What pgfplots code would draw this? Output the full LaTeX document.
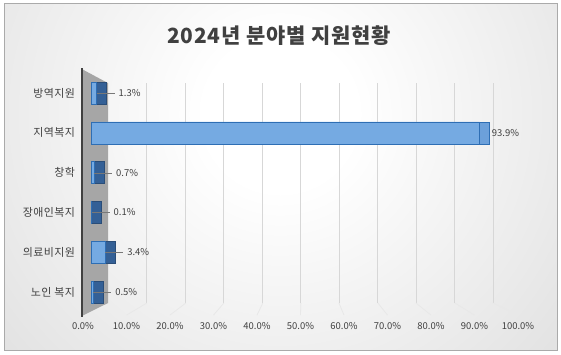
\documentclass[border=0pt]{standalone}
\usepackage{fontspec}
\setmainfont{Noto Sans CJK KR}
\usepackage{pgfplots}
\pgfplotsset{compat=1.18}
\definecolor{bgout}{RGB}{202,202,202}
\definecolor{framec}{RGB}{170,170,170}
\definecolor{txt}{RGB}{64,64,64}
\definecolor{wallc}{RGB}{166,166,166}
\definecolor{barfront}{RGB}{117,170,226}
\definecolor{baredge}{RGB}{46,110,180}
\definecolor{bardark}{RGB}{52,96,150}
\definecolor{barcap}{RGB}{108,160,218}
\definecolor{gridc}{RGB}{215,215,215}
\definecolor{floorc}{RGB}{232,232,232}
\definecolor{ldrc}{RGB}{120,120,120}
\pgfdeclareradialshading{bgshade}{\pgfpoint{0bp}{0bp}}{color(0bp)=(white); color(5bp)=(white); color(40bp)=(bgout); color(50bp)=(bgout)}
\newcommand{\ldr}{\textcolor{ldrc}{\rule[0.3em]{18bp}{0.6pt}}\hspace{4bp}}
\begin{document}
\begin{tikzpicture}[x=1bp,y=1bp]
\useasboundingbox (0,0) rectangle (561,354);
\fill[white] (0,0) rectangle (561,354);
\begin{scope}
\clip (4,4) rectangle (557,350);
\fill[bgout] (4,4) rectangle (557,350);
\shade[shading=bgshade] (280,240) circle (380);
\end{scope}
\draw[framec, line width=1bp] (4,4) rectangle (557,350);
\node[font=\fontsize{21}{23}\selectfont\bfseries\addfontfeatures{LetterSpace=4}, text=txt] at (279,318) {2024년 분야별 지원현황};
\begin{axis}[
  at={(76.1bp,51bp)}, anchor=south west, scale only axis,
  width=453.7bp, height=219.9bp,
  xmin=-3.6, xmax=106, ymin=-0.276, ymax=5.25,
  clip=false,
  axis line style={draw=none},
  major tick length=0pt,
  /pgf/number format/assume math mode=true,
  xtick={-1.93,8.58,19.08,29.59,40.10,50.60,61.11,71.62,82.13,92.63,103.14},
  xticklabels={0.0\%,10.0\%,20.0\%,30.0\%,40.0\%,50.0\%,60.0\%,70.0\%,80.0\%,90.0\%,100.0\%},
  extra x ticks={13.5,22.9,32.1,41.5,50.7,59.9,69.3,78.5,87.9,97.1},
  extra x tick labels={},
  extra x tick style={grid=major},
  major grid style={gridc, line width=0.8bp},
  ytick={0,1,2,3,4,5},
  yticklabels={노인 복지,의료비지원,장애인복지,창학,지역복지,방역지원},
  xticklabel style={font=\fontsize{9.5}{10}\selectfont, text=txt, yshift=-16bp},
  yticklabel style={font=\fontsize{11}{12}\selectfont\addfontfeatures{LetterSpace=4}, text=txt, xshift=2.5bp},
  xbar, bar width=22bp, bar shift=0pt,
]
% floor lines
\draw[floorc, line width=0.8bp] (axis cs:13.5,-0.276) -- (axis cs:8.58,-0.58);
\draw[floorc, line width=0.8bp] (axis cs:22.9,-0.276) -- (axis cs:19.08,-0.58);
\draw[floorc, line width=0.8bp] (axis cs:32.1,-0.276) -- (axis cs:29.59,-0.58);
\draw[floorc, line width=0.8bp] (axis cs:41.5,-0.276) -- (axis cs:40.10,-0.58);
\draw[floorc, line width=0.8bp] (axis cs:50.7,-0.276) -- (axis cs:50.60,-0.58);
\draw[floorc, line width=0.8bp] (axis cs:59.9,-0.276) -- (axis cs:61.11,-0.58);
\draw[floorc, line width=0.8bp] (axis cs:69.3,-0.276) -- (axis cs:71.62,-0.58);
\draw[floorc, line width=0.8bp] (axis cs:78.5,-0.276) -- (axis cs:82.13,-0.58);
\draw[floorc, line width=0.8bp] (axis cs:87.9,-0.276) -- (axis cs:92.63,-0.58);
\draw[floorc, line width=0.8bp] (axis cs:97.1,-0.276) -- (axis cs:103.14,-0.58);
\fill[wallc] (axis cs:-2.17,5.60) -- (axis cs:4.11,5.25) -- (axis cs:4.11,-0.276) -- (axis cs:-2.17,-0.60) -- cycle;
\draw[txt, line width=1.8bp] (axis cs:-2.17,5.62) -- (axis cs:-2.17,-0.62);
% depth (end caps)
\addplot[fill=bardark, draw=bardark!80!black, line width=0.4bp] coordinates {(2.9,0) (5.8,1) (2.5,2) (3.1,3) (3.7,5)};
\addplot[fill=barcap, draw=baredge, line width=0.4bp] coordinates {(96.3,4)};
% values
\addplot[fill=barfront, draw=baredge, line width=0.5bp,
  point meta=explicit symbolic, nodes near coords,
  nodes near coords style={font=\fontsize{9.5}{10}\selectfont, text=txt, anchor=west, inner sep=0pt}]
  coordinates {(0.5,0) [\ldr 0.5\%] (3.4,1) [\ldr 3.4\%] (0.1,2) [\ldr 0.1\%] (0.7,3) [\ldr 0.7\%] (93.9,4) [\hspace{12bp}93.9\%] (1.3,5) [\ldr 1.3\%]};
\end{axis}
\end{tikzpicture}
\end{document}
